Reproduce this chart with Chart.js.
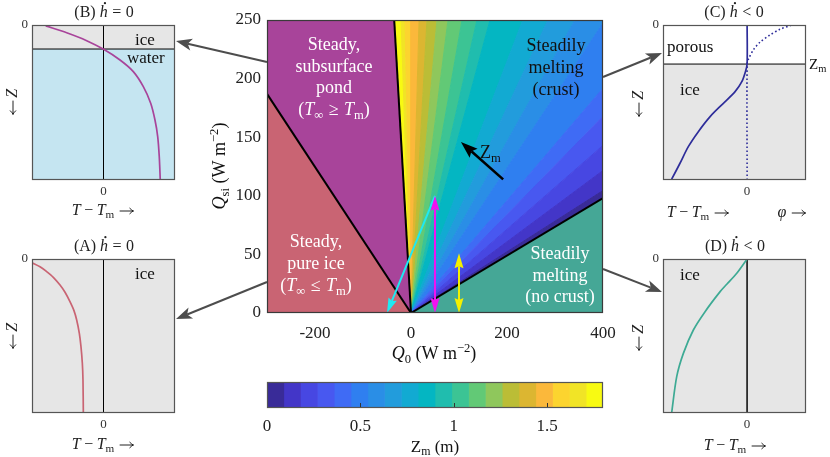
<!DOCTYPE html>
<html>
<head>
<meta charset="utf-8">
<title>Steady and melting regimes</title>
<script src="https://cdn.jsdelivr.net/npm/chart.js@4.4.1/dist/chart.umd.min.js"></script>
<style>
  html, body { margin: 0; padding: 0; background: #fff; }
  #wrap { position: relative; width: 830px; height: 457px; overflow: hidden; }
  #wrap canvas { position: absolute; left: 0; top: 0; }
</style>
</head>
<body>
<div id="wrap">
  <canvas id="mainChart" width="830" height="457"></canvas>
  <canvas id="colorBar" width="830" height="457"></canvas>
  <canvas id="insetA" width="830" height="457"></canvas>
  <canvas id="insetB" width="830" height="457"></canvas>
  <canvas id="insetC" width="830" height="457"></canvas>
  <canvas id="insetD" width="830" height="457"></canvas>
</div>
<script>
// Axis limits and tick labels
const q0Range = [-300, 400];
const qsiRange = [0, 250];
const q0Ticks = [-200, 0, 200, 400];
const qsiTicks = [0, 50, 100, 150, 200, 250];
const zmTicks = [0, 0.5, 1, 1.5];

// Zm contour levels (m) and their colours
const zmLevels = [0, 0.09, 0.18, 0.27, 0.36, 0.45, 0.54, 0.63, 0.72, 0.81, 0.9,
                  0.99, 1.08, 1.17, 1.26, 1.35, 1.44, 1.53, 1.62, 1.71, 1.8];
const zmColors = ['#392b98', '#4336c8', '#4747e2', '#4858f0', '#3f6bf5', '#2f7ff0', '#2a8ee6',
                  '#229cdc', '#12aad2', '#04b6c2', '#20bdae', '#3cc494', '#62c976', '#8fc75c',
                  '#bbbd36', '#dcb631', '#fbb83b', '#fcd42f', '#f1e426', '#f8fa12'];

// Where each Zm contour (a ray from the origin) meets the edge of the plot
const zmEdgeQ0 = [400, 400, 400, 400, 400, 400, 400, 341.7, 285.4, 233, 164.6,
                  137.5, 106.3, 77.1, 54.2, 33.3, 16.7, 0, -12.5, -20.8, -35];
const zmEdgeQsi = [98, 104.5, 121.6, 143, 167.8, 191.8, 247.4, 250, 250, 250, 250,
                   250, 250, 250, 250, 250, 250, 250, 250, 250, 250];

// Regime boundaries
const pureIceLineQ0 = [-300, 0];
const pureIceLineQsi = [187, 0];
const pondLineQ0 = [0, -35];
const pondLineQsi = [0, 250];
const noCrustLineQ0 = [0, 400];
const noCrustLineQsi = [0, 98];

// Trajectory arrows in the (Q0, Qsi) plane
const cyanQ0 = [50, -50];
const cyanQsi = [100, 0];
const magentaQ0 = [50, 50];
const magentaQsi = [0, 100];
const yellowQ0 = [100, 100];
const yellowQsi = [0, 51];
const zmArrowQ0 = [192, 104];
const zmArrowQsi = [114, 146];

// Inset profiles: temperature (scaled) against depth (0 top, 1 bottom)
const profileAT = [-1.0, -0.888, -0.795, -0.702, -0.608, -0.538, -0.469, -0.413, -0.375, -0.338, -0.315, -0.296, -0.287, -0.282];
const profileAZ = [0.024, 0.05, 0.082, 0.119, 0.169, 0.216, 0.277, 0.335, 0.396, 0.483, 0.569, 0.677, 0.786, 1.0];
const profileBT = [-0.808, -0.515, -0.235, 0.002, 0.231, 0.417, 0.557, 0.66, 0.72, 0.758, 0.78, 0.794];
const profileBZ = [0.006, 0.05, 0.101, 0.157, 0.226, 0.301, 0.398, 0.505, 0.613, 0.72, 0.85, 1.0];
const profileCT = [0, 0, -0.02, -0.063, -0.143, -0.282, -0.44, -0.58, -0.699, -0.798, -0.897];
const profileCZ = [0, 0.252, 0.301, 0.366, 0.43, 0.505, 0.591, 0.688, 0.785, 0.892, 0.995];
const porosityC = [0, 0, 0.016, 0.075, 0.155, 0.27, 0.39, 0.52];
const porosityCZ = [1.0, 0.252, 0.22, 0.16, 0.11, 0.065, 0.028, 0.002];
const profileDT = [0, -0.123, -0.242, -0.321, -0.5, -0.639, -0.758, -0.837, -0.897];
const profileDZ = [0, 0.093, 0.164, 0.212, 0.342, 0.461, 0.613, 0.764, 0.998];
const waterTopZ = 0.155;
const porousBaseZ = 0.252;

const SERIF = '"Liberation Serif", "DejaVu Serif", serif';
Chart.defaults.font.family = SERIF;
Chart.defaults.color = '#222';

const PINK = '#c96473';
const PURPLE = '#a8449a';
const TEAL = '#45a796';
const ICE = '#e6e6e6';
const WATER = '#c5e5f1';

function pts(xs, ys) {
  return xs.map((x, i) => ({ x: x, y: ys[i] }));
}

function polygon(points, color, edge) {
  return {
    data: points.concat([points[0]]),
    fill: 'shape',
    backgroundColor: color,
    borderColor: color,
    borderWidth: edge,
    pointRadius: 0,
    tension: 0,
    order: 2
  };
}

function curve(points, color, width, extra) {
  return Object.assign({
    data: points,
    fill: false,
    borderColor: color,
    borderWidth: width,
    pointRadius: 0,
    tension: 0,
    order: 1
  }, extra || {});
}

// text arrow drawn as strokes (the font's arrow glyphs are too small)
function textArrow(ctx, x, y, size, dir) {
  const w = size * 0.95;
  const my = y - size * 0.25;
  const x0 = x + size * 0.06;
  const x1 = x0 + w - size * 0.12;
  const tip = dir > 0 ? x1 : x0;
  ctx.save();
  ctx.strokeStyle = ctx.fillStyle;
  ctx.lineWidth = Math.max(1, size * 0.055);
  ctx.lineCap = 'round';
  ctx.beginPath();
  ctx.moveTo(x0, my);
  ctx.lineTo(x1, my);
  ctx.moveTo(tip - dir * size * 0.22, my - size * 0.17);
  ctx.quadraticCurveTo(tip - dir * size * 0.08, my - size * 0.03, tip, my);
  ctx.quadraticCurveTo(tip - dir * size * 0.08, my + size * 0.03, tip - dir * size * 0.22, my + size * 0.17);
  ctx.stroke();
  ctx.restore();
}

// Text with italics, sub- and superscripts, drawn piece by piece
function richText(ctx, parts, x, y, size, align, color) {
  ctx.save();
  ctx.fillStyle = color || '#111';
  ctx.textAlign = 'left';
  ctx.textBaseline = 'alphabetic';
  const items = parts.map((p) => {
    const t = p[0];
    const k = p[1] || 'r';
    const small = k === 'sub' || k === 'sup';
    const s = small ? size * 0.7 : size;
    const font = (k === 'i' || k === 'hdot' ? 'italic ' : '') + s.toFixed(1) + 'px ' + SERIF;
    ctx.font = font;
    let w;
    if (k === 'gap') w = t * size;
    else if (k === 'rarr' || k === 'larr') w = size * 0.95;
    else w = ctx.measureText(t).width;
    const dy = k === 'sub' ? size * 0.2 : (k === 'sup' ? -size * 0.4 : 0);
    return { t, k, font, w, dy };
  });
  const total = items.reduce((s, it) => s + it.w, 0);
  let cx = align === 'center' ? x - total / 2 : (align === 'right' ? x - total : x);
  items.forEach((it) => {
    if (it.k === 'rarr' || it.k === 'larr') {
      textArrow(ctx, cx, y, size, it.k === 'rarr' ? 1 : -1);
    } else if (it.k !== 'gap') {
      ctx.font = it.font;
      ctx.fillText(it.t, cx, y + it.dy);
      if (it.k === 'hdot') {
        ctx.beginPath();
        ctx.arc(cx + it.w * 0.66, y - size * 0.86, size * 0.07, 0, Math.PI * 2);
        ctx.fill();
      }
    }
    cx += it.w;
  });
  ctx.restore();
}

function textLines(ctx, lines, x, baselines, size, color) {
  lines.forEach((ln, i) => {
    richText(ctx, typeof ln === 'string' ? [[ln]] : ln, x, baselines[i], size, 'center', color);
  });
}

function arrowHead(ctx, x, y, a, o) {
  ctx.save();
  ctx.translate(x, y);
  ctx.rotate(a);
  ctx.beginPath();
  ctx.moveTo(0, 0);
  ctx.lineTo(-o.len, o.half);
  ctx.lineTo(-o.len + o.notch, 0);
  ctx.lineTo(-o.len, -o.half);
  ctx.closePath();
  ctx.fill();
  ctx.restore();
}

function arrow(ctx, x1, y1, x2, y2, o) {
  const a = Math.atan2(y2 - y1, x2 - x1);
  const back = o.len - o.notch;
  ctx.save();
  ctx.strokeStyle = o.color;
  ctx.fillStyle = o.color;
  ctx.lineWidth = o.width;
  ctx.beginPath();
  ctx.moveTo(o.both ? x1 + Math.cos(a) * back : x1, o.both ? y1 + Math.sin(a) * back : y1);
  ctx.lineTo(x2 - Math.cos(a) * back, y2 - Math.sin(a) * back);
  ctx.stroke();
  arrowHead(ctx, x2, y2, a, o);
  if (o.both) arrowHead(ctx, x1, y1, a + Math.PI, o);
  ctx.restore();
}

function dataArrow(chart, xs, ys, o) {
  const sx = chart.scales.x;
  const sy = chart.scales.y;
  arrow(chart.ctx, sx.getPixelForValue(xs[0]), sy.getPixelForValue(ys[0]),
        sx.getPixelForValue(xs[1]), sy.getPixelForValue(ys[1]), o);
}

function frame(chart, color) {
  const a = chart.chartArea;
  const ctx = chart.ctx;
  ctx.save();
  ctx.strokeStyle = color;
  ctx.lineWidth = 1.2;
  ctx.strokeRect(a.left + 0.5, a.top + 0.5, a.right - a.left - 1, a.bottom - a.top - 1);
  ctx.restore();
}

const plainLabel = (v) => String(v);

// ---- main regime diagram ----
const mainDatasets = [];
const origin = { x: 0, y: 0 };
mainDatasets.push(polygon([{ x: q0Range[0], y: 0 }].concat(pts(pureIceLineQ0, pureIceLineQsi)), PINK, 1));
mainDatasets.push(polygon([{ x: q0Range[0], y: pureIceLineQsi[0] }, { x: q0Range[0], y: qsiRange[1] },
  { x: pondLineQ0[1], y: pondLineQsi[1] }, origin], PURPLE, 1));
mainDatasets.push(polygon([origin, { x: noCrustLineQ0[1], y: noCrustLineQsi[1] }, { x: q0Range[1], y: 0 }], TEAL, 1));
for (let k = 0; k < zmColors.length; k++) {
  const p = [origin, { x: zmEdgeQ0[k], y: zmEdgeQsi[k] }];
  if (zmEdgeQ0[k] === q0Range[1] && zmEdgeQsi[k + 1] === qsiRange[1] && zmEdgeQ0[k + 1] < q0Range[1]) {
    p.push({ x: q0Range[1], y: qsiRange[1] });
  }
  p.push({ x: zmEdgeQ0[k + 1], y: zmEdgeQsi[k + 1] });
  mainDatasets.push(polygon(p, zmColors[k], 1));
}
mainDatasets.push(curve(pts(pureIceLineQ0, pureIceLineQsi), '#000', 2));
mainDatasets.push(curve(pts(pondLineQ0, pondLineQsi), '#000', 2));
mainDatasets.push(curve(pts(noCrustLineQ0, noCrustLineQsi), '#000', 2));

const mainDecor = {
  id: 'mainDecor',
  afterDatasetsDraw(chart) {
    const thin = { width: 2, len: 15, half: 4.5, notch: 2 };
    dataArrow(chart, cyanQ0, cyanQsi, Object.assign({ color: '#1ee9f2' }, thin));
    dataArrow(chart, magentaQ0, magentaQsi, Object.assign({ color: '#f012f0', both: true }, thin));
    dataArrow(chart, yellowQ0, yellowQsi, Object.assign({ color: '#f4f000', both: true }, thin));
    dataArrow(chart, zmArrowQ0, zmArrowQsi, { color: '#000', width: 2.6, len: 17, half: 6, notch: 3 });
  },
  afterDraw(chart) {
    const ctx = chart.ctx;
    frame(chart, '#3a3a3a');

    // regime labels
    textLines(ctx, ['Steady,', 'subsurface', 'pond',
      [['('], ['T', 'i'], ['\u221E', 'sub'], [0.3, 'gap'], ['\u2265'], [0.3, 'gap'], ['T', 'i'], ['m', 'sub'], [')']]],
      334, [50, 72, 93, 115], 18, '#fff');
    textLines(ctx, ['Steadily', 'melting', '(crust)'], 556, [51, 73, 95], 18, '#111');
    textLines(ctx, ['Steady,', 'pure ice',
      [['('], ['T', 'i'], ['\u221E', 'sub'], [0.3, 'gap'], ['\u2264'], [0.3, 'gap'], ['T', 'i'], ['m', 'sub'], [')']]],
      316, [247, 269, 291], 18, '#fff');
    textLines(ctx, ['Steadily', 'melting', '(no crust)'], 560, [259, 281, 302], 18, '#fff');
    richText(ctx, [['Z'], ['m', 'sub']], 480, 158, 18, 'left', '#111');

    // axis titles
    richText(ctx, [['Q', 'i'], ['0', 'sub'], [' (W m'], ['\u22122', 'sup'], [')']], 434, 359, 18, 'center', '#111');
    ctx.save();
    ctx.translate(225, 166);
    ctx.rotate(-Math.PI / 2);
    richText(ctx, [['Q', 'i'], ['si', 'sub'], [' (W m'], ['\u22122', 'sup'], [')']], 0, 0, 18, 'center', '#111');
    ctx.restore();

    // pointers from the regimes to their profiles
    const link = { color: '#4d4d4d', width: 2, len: 16, half: 6, notch: 4 };
    arrow(ctx, 267, 62, 176, 41, link);
    arrow(ctx, 267, 282, 176, 319, link);
    arrow(ctx, 603, 77, 662, 53, link);
    arrow(ctx, 603, 269, 662, 292, link);
  }
};

new Chart(document.getElementById('mainChart'), {
  type: 'line',
  data: { datasets: mainDatasets },
  options: {
    responsive: false,
    animation: false,
    events: [],
    layout: { padding: { left: 207, top: 20, right: 227, bottom: 104 } },
    plugins: { legend: { display: false }, tooltip: { enabled: false } },
    scales: {
      x: {
        type: 'linear', min: q0Range[0], max: q0Range[1],
        afterFit: (s) => { s.height = 40; },
        afterBuildTicks: (s) => { s.ticks = q0Ticks.map((v) => ({ value: v })); },
        grid: { display: false, drawTicks: false },
        border: { display: false },
        ticks: { padding: 10, font: { size: 17 }, color: '#222', maxRotation: 0, callback: plainLabel }
      },
      y: {
        type: 'linear', min: qsiRange[0], max: qsiRange[1],
        afterFit: (s) => { s.width = 60; },
        afterBuildTicks: (s) => { s.ticks = qsiTicks.map((v) => ({ value: v })); },
        grid: { display: false, drawTicks: false },
        border: { display: false },
        ticks: { padding: 6, font: { size: 17 }, color: '#222', callback: plainLabel }
      }
    }
  },
  plugins: [mainDecor]
});

// ---- colour bar ----
new Chart(document.getElementById('colorBar'), {
  type: 'bar',
  data: {
    labels: ['Zm'],
    datasets: zmColors.map((c, i) => ({
      data: [[zmLevels[i], zmLevels[i + 1]]],
      backgroundColor: c,
      borderWidth: 0,
      barPercentage: 1,
      categoryPercentage: 1,
      grouped: false
    }))
  },
  options: {
    indexAxis: 'y',
    responsive: false,
    animation: false,
    events: [],
    layout: { padding: { left: 267, top: 382, right: 227, bottom: 19 } },
    plugins: { legend: { display: false }, tooltip: { enabled: false } },
    scales: {
      x: {
        type: 'linear', min: zmLevels[0], max: zmLevels[zmLevels.length - 1],
        afterFit: (s) => { s.height = 30; },
        afterBuildTicks: (s) => { s.ticks = zmTicks.map((v) => ({ value: v })); },
        grid: { display: false, drawTicks: false },
        border: { display: false },
        ticks: { padding: 8, font: { size: 17 }, color: '#222', maxRotation: 0, callback: plainLabel }
      },
      y: { display: false }
    }
  },
  plugins: [{
    id: 'barDecor',
    afterDraw(chart) {
      const ctx = chart.ctx;
      const a = chart.chartArea;
      frame(chart, '#555');
      ctx.save();
      ctx.strokeStyle = '#333';
      ctx.lineWidth = 1;
      zmTicks.slice(1).forEach((v) => {
        const x = Math.round(chart.scales.x.getPixelForValue(v)) + 0.5;
        ctx.beginPath();
        ctx.moveTo(x, a.bottom - 1);
        ctx.lineTo(x, a.bottom - 5);
        ctx.stroke();
      });
      ctx.restore();
      richText(ctx, [['Z'], ['m', 'sub'], [' (m)']], 435, 452, 17, 'center', '#111');
    }
  }]
});

// ---- profile insets ----
function makeInset(id, box, tMax, datasets, draw) {
  return new Chart(document.getElementById(id), {
    type: 'line',
    data: { datasets },
    options: {
      responsive: false,
      animation: false,
      events: [],
      layout: { padding: { left: box[0] - 30, top: box[1], right: 830 - box[2], bottom: 457 - box[3] - 24 } },
      plugins: { legend: { display: false }, tooltip: { enabled: false } },
      scales: {
        x: {
          type: 'linear', min: -1, max: tMax,
          afterFit: (s) => { s.height = 24; },
          afterBuildTicks: (s) => { s.ticks = [{ value: 0 }]; },
          grid: { display: false, drawTicks: false },
          border: { display: false },
          ticks: { padding: 4, font: { size: 13 }, color: '#333', maxRotation: 0 }
        },
        y: {
          type: 'linear', min: 0, max: 1, reverse: true,
          afterFit: (s) => { s.width = 30; },
          afterBuildTicks: (s) => { s.ticks = [{ value: 0 }]; },
          grid: { display: false, drawTicks: false },
          border: { display: false },
          ticks: { padding: 4, font: { size: 13 }, color: '#333' }
        }
      }
    },
    plugins: [{
      id: 'insetDecor',
      afterDraw(chart) {
        frame(chart, '#555');
        draw(chart.ctx);
      }
    }]
  });
}

function band(z0, z1, tMax, color) {
  return polygon([{ x: -1, y: z0 }, { x: tMax, y: z0 }, { x: tMax, y: z1 }, { x: -1, y: z1 }], color, 0);
}

const tempLabel = [['T', 'i'], [0.22, 'gap'], ['\u2212'], [0.22, 'gap'], ['T', 'i'], ['m', 'sub'], [0.3, 'gap'], ['', 'rarr']];

function depthLabel(ctx, x, y) {
  ctx.save();
  ctx.translate(x, y);
  ctx.rotate(-Math.PI / 2);
  richText(ctx, [['', 'larr'], [0.15, 'gap'], ['Z', 'i']], 0, 0, 16, 'center', '#222');
  ctx.restore();
}

makeInset('insetA', [32, 259, 175, 413], 1, [
  band(0, 1, 1, ICE),
  curve([{ x: 0, y: 0 }, { x: 0, y: 1 }], '#000', 1),
  curve(pts(profileAT, profileAZ), PINK, 1.7, { tension: 0.3, order: 0 })
], (ctx) => {
  richText(ctx, [['(A) '], ['h', 'hdot'], [0.28, 'gap'], ['='], [0.28, 'gap'], ['0']], 104, 251, 16, 'center', '#222');
  richText(ctx, [['ice']], 135, 279, 17, 'left', '#111');
  richText(ctx, tempLabel, 103, 449, 16, 'center', '#222');
  depthLabel(ctx, 17, 336);
});

makeInset('insetB', [32, 25, 175, 180], 1, [
  band(0, waterTopZ, 1, ICE),
  band(waterTopZ, 1, 1, WATER),
  curve([{ x: -1, y: waterTopZ }, { x: 1, y: waterTopZ }], '#000', 1),
  curve([{ x: 0, y: 0 }, { x: 0, y: 1 }], '#000', 1),
  curve(pts(profileBT, profileBZ), PURPLE, 1.7, { tension: 0.3, order: 0 })
], (ctx) => {
  richText(ctx, [['(B) '], ['h', 'hdot'], [0.28, 'gap'], ['='], [0.28, 'gap'], ['0']], 104, 17, 16, 'center', '#222');
  richText(ctx, [['ice']], 135, 45, 17, 'left', '#111');
  richText(ctx, [['water']], 127, 63, 17, 'left', '#111');
  richText(ctx, tempLabel, 103, 215, 16, 'center', '#222');
  depthLabel(ctx, 17, 102);
});

makeInset('insetC', [663, 25, 806, 180], 0.7, [
  band(0, porousBaseZ, 0.7, '#ffffff'),
  band(porousBaseZ, 1, 0.7, ICE),
  curve([{ x: -1, y: porousBaseZ }, { x: 0.7, y: porousBaseZ }], '#000', 1),
  curve(pts(porosityC, porosityCZ), '#2e2d9a', 1.6, { tension: 0.3, borderDash: [1.6, 2.4], order: 0 }),
  curve(pts(profileCT, profileCZ), '#2e2d9a', 1.7, { tension: 0.3, order: 0 })
], (ctx) => {
  richText(ctx, [['(C) '], ['h', 'hdot'], [0.28, 'gap'], ['<'], [0.28, 'gap'], ['0']], 734, 17, 16, 'center', '#222');
  richText(ctx, [['porous']], 667, 52, 17, 'left', '#111');
  richText(ctx, [['ice']], 680, 95, 17, 'left', '#111');
  richText(ctx, [['Z'], ['m', 'sub']], 809, 69, 15, 'left', '#111');
  richText(ctx, tempLabel, 698, 217, 16, 'center', '#222');
  richText(ctx, [['\u03C6', 'i'], [0.3, 'gap'], ['', 'rarr']], 792, 217, 16, 'center', '#222');
  depthLabel(ctx, 643, 104);
});

makeInset('insetD', [663, 259, 806, 413], 0.7, [
  band(0, 1, 0.7, ICE),
  curve([{ x: 0, y: 0 }, { x: 0, y: 1 }], '#222', 1),
  curve(pts(profileDT, profileDZ), '#3daa94', 1.7, { tension: 0.3, order: 0 })
], (ctx) => {
  richText(ctx, [['(D) '], ['h', 'hdot'], [0.28, 'gap'], ['<'], [0.28, 'gap'], ['0']], 735, 251, 16, 'center', '#222');
  richText(ctx, [['ice']], 680, 280, 17, 'left', '#111');
  richText(ctx, tempLabel, 735, 450, 16, 'center', '#222');
  depthLabel(ctx, 643, 338);
});
</script>
</body>
</html>
